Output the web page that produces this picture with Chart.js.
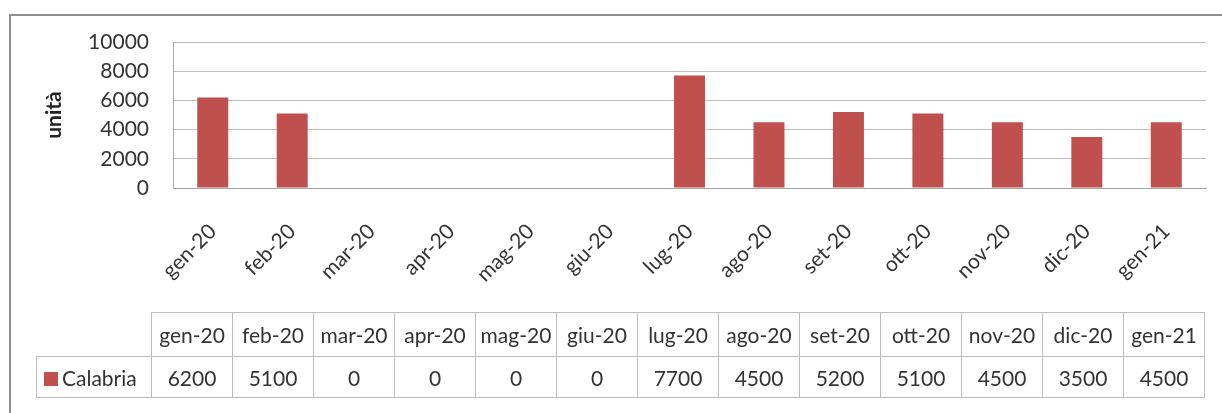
<!DOCTYPE html>
<html>
<head>
<meta charset="utf-8">
<script src="https://cdn.jsdelivr.net/npm/chart.js@4.4.0/dist/chart.umd.min.js"></script>
<style>
  body { margin: 0; background: #fff; font-family: Lato, sans-serif; }
  #wrap { position: relative; width: 1222px; height: 413px; overflow: hidden; }
  #frame { position: absolute; left: 9px; top: 14px; width: 1240px; height: 420px; border: 2px solid #8e8e8e; box-sizing: border-box; }
  #cv { position: absolute; left: 0; top: 0; }
  #tbl { position: absolute; left: 36px; top: 312px; border-collapse: collapse; font-size: 21px; color: #333; }
  #tbl td { border: 1px solid #bdbdbd; text-align: center; padding: 0; width: 80px; white-space: nowrap; }
  #tbl tr.h td { height: 43px; }
  #tbl tr.v td { height: 40px; }
  #tbl td.leg { width: 115px; text-align: left; padding-left: 7px; box-sizing: border-box; }
  #tbl td.blank { border: none; }
  .sw { display: inline-block; width: 14px; height: 14px; background: #c0504d; margin-right: 4px; }
</style>
</head>
<body>
<div id="wrap">
  <div id="frame"></div>
  <canvas id="cv" width="1222" height="413"></canvas>
  <table id="tbl"></table>
</div>
<script>
'use strict'
let months = ['gen-20','feb-20','mar-20','apr-20','mag-20','giu-20','lug-20','ago-20','set-20','ott-20','nov-20','dic-20','gen-21'];
let calabria = [6200, 5100, 0, 0, 0, 0, 7700, 4500, 5200, 5100, 4500, 3500, 4500];
let seriesName = 'Calabria';
let yTicks = [0, 2000, 4000, 6000, 8000, 10000];
let barColor = '#c0504d';

// data table under the chart
let tbl = document.getElementById('tbl');
let head = '<tr class="h"><td class="blank"></td>';
for (let i = 0; i < months.length; i++) {
    head += '<td>' + months[i] + '</td>';
}
head += '</tr>';
let row = '<tr class="v"><td class="leg"><span class="sw"></span>' + seriesName + '</td>';
for (let i = 0; i < calabria.length; i++) {
    row += '<td>' + calabria[i] + '</td>';
}
row += '</tr>';
tbl.innerHTML = head + row;

let ctx = document.getElementById('cv').getContext('2d');
let chart = new Chart(ctx, {
    type: 'bar',
    data: {
        labels: months,
        datasets: [{
            label: seriesName,
            data: calabria,
            backgroundColor: barColor,
            barPercentage: 0.78,
            categoryPercentage: 0.5
        }]
    },
    options: {
        responsive: false,
        animation: false,
        layout: { padding: { top: 42, right: 16, left: 0, bottom: 0 } },
        plugins: { legend: { display: false }, tooltip: { enabled: false } },
        scales: {
            x: {
                grid: { display: false, drawTicks: false },
                border: { color: '#a6a6a6', width: 1 },
                ticks: {
                    color: '#333', font: { family: 'Lato', size: 21 },
                    minRotation: 45, maxRotation: 45, padding: 31
                },
                afterFit: function (scale) { scale.height = 413 - 188; }
            },
            y: {
                min: yTicks[0],
                max: yTicks[yTicks.length - 1],
                afterBuildTicks: function (scale) {
                    scale.ticks = yTicks.map(function (v) { return { value: v }; });
                },
                grid: { color: '#bdbdbd', drawTicks: false },
                border: { color: '#a6a6a6', width: 1 },
                ticks: {
                    color: '#333', font: { family: 'Lato', size: 21 }, padding: 24,
                    callback: function (v) { return String(v); }
                },
                title: {
                    display: true, text: 'unità', color: '#222',
                    font: { family: 'Lato', size: 21, weight: 'bold' },
                    padding: { top: 42, bottom: 0 }
                },
                afterFit: function (scale) { scale.width = 173; }
            }
        }
    }
});
</script>
</body>
</html>
